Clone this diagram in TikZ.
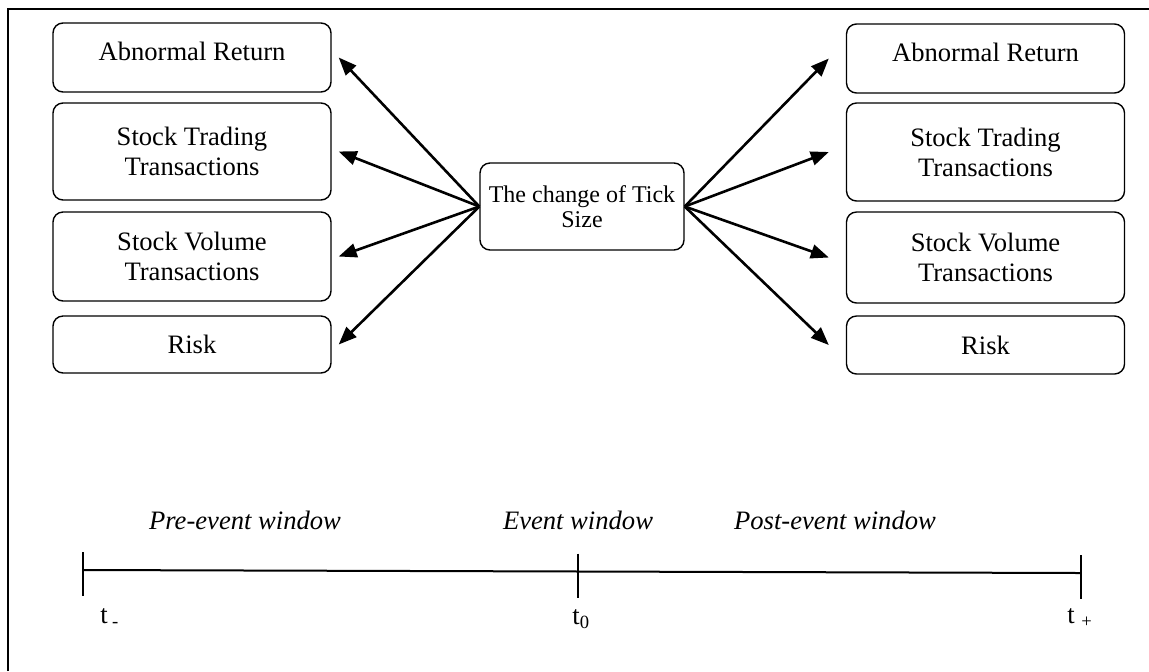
\documentclass[tikz,border=0pt]{standalone}
\usepackage{fontspec}
\setmainfont{Liberation Serif}
\usetikzlibrary{arrows.meta}
\begin{document}
\begin{tikzpicture}[x=0.5pt,y=-0.5pt,
    caja/.style={draw, rounded corners=5pt, line width=0.7pt, minimum width=139pt,
      inner sep=0pt, align=center, font=\fontsize{13.3}{15}\selectfont},
    flecha/.style={-{Triangle[length=9pt,width=7pt]}, line width=1.3pt},
    ventana/.style={anchor=base, font=\fontsize{13.3}{15}\selectfont\itshape},
    tiempo/.style={anchor=base west, inner sep=0pt, font=\fontsize{13.3}{15}\selectfont}]
    \useasboundingbox (0,0) rectangle (1149,671);

    % Marco
    \draw[line width=1pt] (8,671) -- (8,9) -- (1149,9);

    % Cajas izquierda
    \node[caja, minimum height=34.5pt, text depth=6pt] (abnI) at (192,57.5) {Abnormal Return};
    \node[caja, minimum height=48.5pt] (traI) at (192,151.5) {Stock Trading\\Transactions};
    \node[caja, minimum height=44.5pt] (volI) at (192,256.5) {Stock Volume\\Transactions};
    \node[caja, minimum height=28.5pt] (rieI) at (192,344.5) {Risk};

    % Cajas derecha
    \node[caja, minimum height=34.5pt, text depth=6pt] (abnD) at (985.5,58.5) {Abnormal Return};
    \node[caja, minimum height=49pt] (traD) at (985.5,152) {Stock Trading\\Transactions};
    \node[caja, minimum height=45.5pt] (volD) at (985.5,257.5) {Stock Volume\\Transactions};
    \node[caja, minimum height=29pt] (rieD) at (985.5,345) {Risk};

    % Caja central
    \node[caja, minimum width=102pt, minimum height=43.5pt,
      font=\fontsize{12}{12.5}\selectfont] (cambio) at (582,206.5)
      {The change of Tick\\Size};

    % Flechas
    \foreach \n in {abnI,traI,volI,rieI}
      \draw[flecha] (cambio.west) -- ([xshift=3.5pt]\n.east);
    \foreach \n in {abnD,traD,volD,rieD}
      \draw[flecha] (cambio.east) -- ([xshift=-8.5pt]\n.west);

    % Linea de tiempo
    \draw[line width=1pt] (83,570) coordinate (ini) -- (1081,573) coordinate (fin);
    \coordinate (cero) at (578,571.5);
    \foreach \c in {ini,cero,fin}
      \draw[line width=1.2pt] ([yshift=9pt]\c) -- ([yshift=-13pt]\c);

    % Ventanas
    \node[ventana] (pre) at (245,529) {Pre-event window};
    \node[ventana] (evento) at (578,529) {Event window};
    \node[ventana] (post) at (835,529) {Post-event window};

    % Etiquetas
    \node[tiempo] (tmenos) at (100,623) {t\,\textsubscript{-}};
    \node[tiempo] (tcero) at (572,624) {t\textsubscript{0}};
    \node[tiempo] (tmas) at (1067,623) {t \textsubscript{+}};
\end{tikzpicture}
\end{document}
